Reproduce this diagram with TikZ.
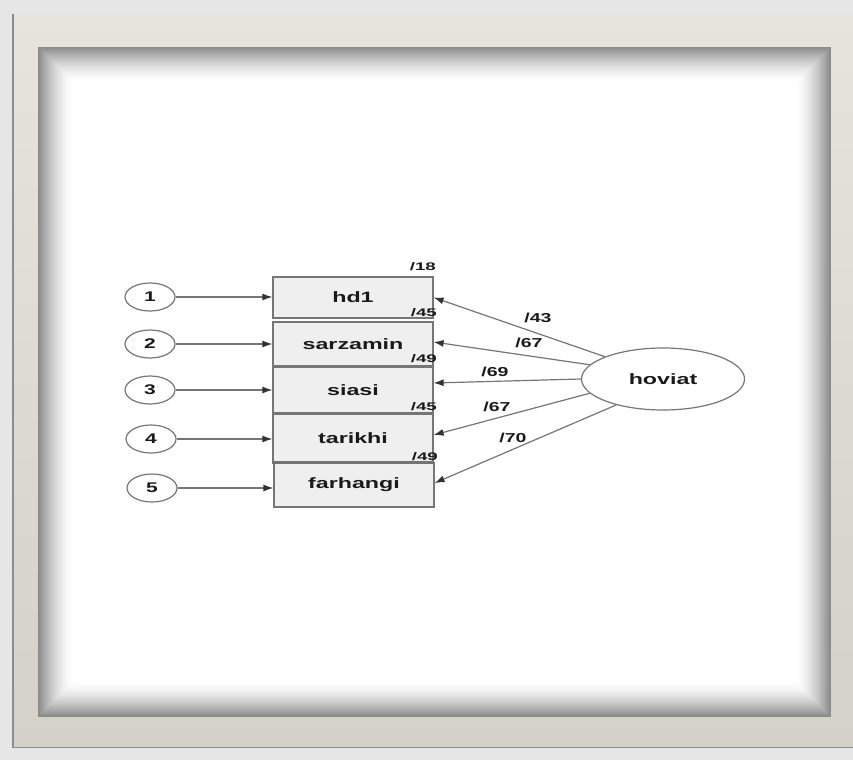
\documentclass[tikz,border=0pt]{standalone}
\usepackage{fontspec}
\usepackage{graphicx}
\setmainfont{Liberation Sans}
\usetikzlibrary{arrows.meta,calc,shapes.geometric}
\definecolor{outside}{HTML}{E6E6E6}
\definecolor{beigeA}{HTML}{E6E4DC}
\definecolor{beigeB}{HTML}{D4D1C9}
\definecolor{linegray}{HTML}{767676}
\definecolor{boxfill}{HTML}{EFEFEF}
\definecolor{txt}{HTML}{1A1A1A}
\newcommand\wtxt[2]{\scalebox{#1}[1]{#2}}
\tikzset{
  box/.style={draw=linegray, fill=boxfill, line width=1.2pt, minimum width=160pt, inner sep=0pt,
    text=txt, font=\fontsize{15}{17}\selectfont\bfseries},
  errc/.style={ellipse, draw=linegray, fill=white, line width=1.2pt, minimum width=50pt, minimum height=28pt,
    inner sep=0pt, text=txt, font=\fontsize{14}{16}\selectfont\bfseries},
  latent/.style={ellipse, draw=linegray, fill=white, line width=1.2pt, minimum width=163pt, minimum height=62pt,
    inner sep=0pt, text=txt, font=\fontsize{15}{17}\selectfont\bfseries},
  arr/.style={draw=linegray, line width=1.2pt, -{Latex[length=10pt,width=7pt,color=black!80]}},
  small/.style={inner sep=0pt, text=txt, font=\fontsize{11}{13}\selectfont\bfseries},
  coef/.style={inner sep=0pt, text=txt, font=\fontsize{13}{15}\selectfont\bfseries},
}
\begin{document}
\begin{tikzpicture}[x=1pt,y=-1pt]
\useasboundingbox (0,0) rectangle (853,760);
% outside area
\fill[outside] (0,0) rectangle (853,760);
% outer beige frame with shadow
\fill[black!45] (12,14) rectangle (853,748);
\shade[top color=beigeA, bottom color=beigeB] (14,15) rectangle (853,746);
% gray band fading inward
\foreach \i in {0,...,34}{
  \pgfmathsetmacro{\g}{46*(1-\i/35)^1.6}
  \fill[black!\g] (38+\i,47+\i) rectangle (831-\i,717-\i);
}
\fill[white] (73,82) rectangle (796,682);

% error terms
\node[errc] (e1) at (150,297) {\wtxt{1.5}{1}};
\node[errc] (e2) at (150,344) {\wtxt{1.5}{2}};
\node[errc] (e3) at (150,390) {\wtxt{1.5}{3}};
\node[errc] (e4) at (151,439) {\wtxt{1.5}{4}};
\node[errc] (e5) at (152,488) {\wtxt{1.5}{5}};

% observed variables
\node[box, minimum height=41pt] (hd1) at (353,297.5) {\wtxt{1.55}{hd1}};
\node[box, minimum height=44pt] (sar) at (353,344) {\wtxt{1.55}{sarzamin}};
\node[box, minimum height=46pt] (sia) at (353,390) {\wtxt{1.55}{siasi}};
\node[box, minimum height=47pt] (tar) at (353,438) {\wtxt{1.55}{tarikhi}};
\node[box, minimum height=44pt] (far) at (354,485) {\wtxt{1.55}{farhangi}};
\draw[black!55, line width=3pt] (tar.south west) -- (tar.south east);

% latent variable
\node[latent] (hov) at (663,379) {\wtxt{1.55}{hoviat}};

% error arrows
\draw[arr] (e1.east) -- (hd1.west |- e1.east);
\draw[arr] (e2.east) -- (sar.west |- e2.east);
\draw[arr] (e3.east) -- (sia.west |- e3.east);
\draw[arr] (e4.east) -- (tar.west |- e4.east);
\draw[arr] (e5.east) -- (far.west |- e5.east);

% loading arrows
\draw[arr] (hov.159) -- (hd1.east);
\draw[arr] (hov.169) -- ($(sar.east)+(0,-2)$);
\draw[arr] (hov.180) -- ($(sia.east)+(0,-7)$);
\draw[arr] (hov.191) -- ($(tar.east)+(0,-3)$);
\draw[arr] (hov.209) -- ($(far.east)+(0,-2)$);

% squared multiple correlations
\node[small, anchor=east] (r1) at (436,267) {\wtxt{1.7}{/18}};
\node[small, anchor=east] (r2) at (437,313) {\wtxt{1.7}{/45}};
\node[small, anchor=east] (r3) at (437,359) {\wtxt{1.7}{/49}};
\node[small, anchor=east] (r4) at (437,407) {\wtxt{1.7}{/45}};
\node[small, anchor=east] (r5) at (438,457) {\wtxt{1.7}{/49}};

% loadings
\node[coef] (l1) at (538,318) {\wtxt{1.5}{/43}};
\node[coef] (l2) at (529,343) {\wtxt{1.5}{/67}};
\node[coef] (l3) at (495,372) {\wtxt{1.5}{/69}};
\node[coef] (l4) at (497,407) {\wtxt{1.5}{/67}};
\node[coef] (l5) at (513,438) {\wtxt{1.5}{/70}};
\end{tikzpicture}
\end{document}
